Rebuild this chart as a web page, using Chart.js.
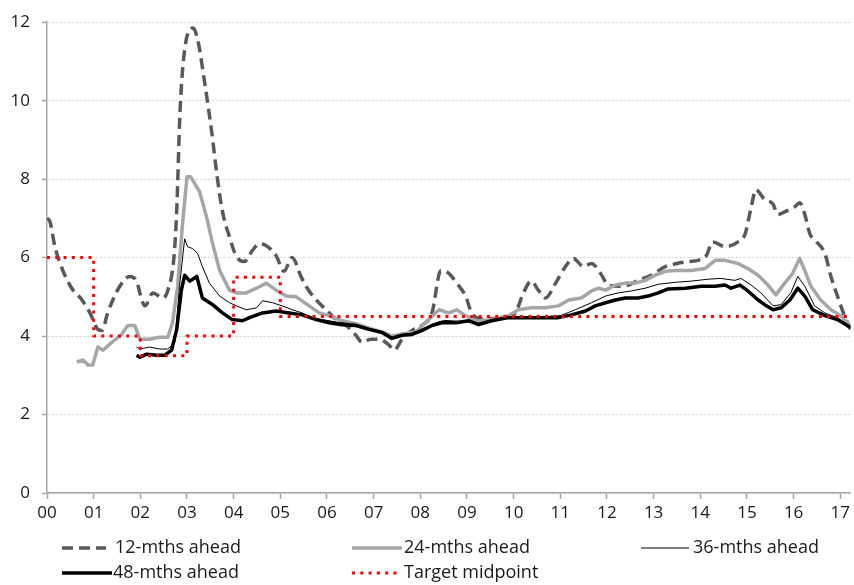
<!DOCTYPE html>
<html>
<head>
<meta charset="utf-8">
<script src="https://cdn.jsdelivr.net/npm/chart.js@4.4.0/dist/chart.umd.min.js"></script>
<style>
  html, body { margin: 0; padding: 0; background: #fff; }
  #wrap { position: relative; width: 854px; height: 585px; }
</style>
</head>
<body>
<div id="wrap"><canvas id="chart"></canvas></div>
<script>
const FONT = "'Open Sans', sans-serif";

// year fractions and values
const t12 = [2000.0, 2000.06, 2000.17, 2000.34, 2000.53, 2000.75, 2000.92, 2001.09, 2001.18, 2001.3, 2001.56, 2001.77, 2001.92, 2002.03, 2002.1, 2002.27, 2002.48, 2002.59, 2002.72, 2002.78, 2002.85, 2002.95, 2003.13, 2003.23, 2003.38, 2003.53, 2003.65, 2003.76, 2003.91, 2004.06, 2004.23, 2004.4, 2004.55, 2004.7, 2004.91, 2005.08, 2005.25, 2005.45, 2005.55, 2005.77, 2005.98, 2006.2, 2006.41, 2006.62, 2006.75, 2006.94, 2007.12, 2007.33, 2007.44, 2007.61, 2007.82, 2008.03, 2008.25, 2008.44, 2008.61, 2008.78, 2008.97, 2009.1, 2009.3, 2009.6, 2009.9, 2010.04, 2010.21, 2010.38, 2010.53, 2010.68, 2010.9, 2011.11, 2011.28, 2011.5, 2011.67, 2011.86, 2012.03, 2012.24, 2012.46, 2012.67, 2012.95, 2013.25, 2013.5, 2013.75, 2013.95, 2014.12, 2014.27, 2014.53, 2014.81, 2014.96, 2015.09, 2015.19, 2015.38, 2015.56, 2015.66, 2015.83, 2016.03, 2016.13, 2016.24, 2016.35, 2016.47, 2016.67, 2016.8, 2016.94, 2017.09, 2017.22];
const v12 = [7.0, 6.93, 6.28, 5.67, 5.22, 4.92, 4.59, 4.17, 4.14, 4.59, 5.27, 5.52, 5.4, 4.92, 4.77, 5.1, 4.97, 5.17, 6.0, 7.2, 9.7, 11.3, 11.85, 11.55, 10.45, 9.2, 8.03, 7.18, 6.53, 6.03, 5.9, 6.18, 6.35, 6.3, 6.05, 5.65, 6.0, 5.5, 5.27, 4.92, 4.67, 4.42, 4.27, 4.02, 3.84, 3.92, 3.92, 3.77, 3.64, 3.92, 4.14, 4.27, 4.59, 5.67, 5.6, 5.35, 5.02, 4.59, 4.45, 4.45, 4.5, 4.59, 5.1, 5.4, 5.17, 4.97, 5.35, 5.77, 5.98, 5.77, 5.85, 5.6, 5.3, 5.27, 5.3, 5.42, 5.55, 5.77, 5.85, 5.9, 5.93, 6.03, 6.4, 6.28, 6.4, 6.6, 7.28, 7.73, 7.48, 7.36, 7.1, 7.18, 7.3, 7.4, 7.1, 6.6, 6.43, 6.1, 5.52, 5.02, 4.52, 4.17];

const t24 = [2000.64, 2000.77, 2000.88, 2000.98, 2001.09, 2001.2, 2001.39, 2001.6, 2001.73, 2001.88, 2001.99, 2002.2, 2002.41, 2002.59, 2002.69, 2002.8, 2002.9, 2003.0, 2003.08, 2003.27, 2003.42, 2003.55, 2003.7, 2003.91, 2004.06, 2004.27, 2004.49, 2004.7, 2004.91, 2005.13, 2005.34, 2005.62, 2005.83, 2006.05, 2006.3, 2006.6, 2006.9, 2007.2, 2007.4, 2007.6, 2007.9, 2008.18, 2008.4, 2008.61, 2008.78, 2008.97, 2009.2, 2009.53, 2009.89, 2010.1, 2010.38, 2010.68, 2010.96, 2011.18, 2011.45, 2011.67, 2011.82, 2011.97, 2012.18, 2012.39, 2012.61, 2012.82, 2013.03, 2013.25, 2013.46, 2013.8, 2014.1, 2014.32, 2014.53, 2014.81, 2015.02, 2015.24, 2015.45, 2015.62, 2015.81, 2015.98, 2016.13, 2016.24, 2016.37, 2016.58, 2016.8, 2017.01, 2017.22];
const v24 = [3.34, 3.39, 3.26, 3.26, 3.72, 3.64, 3.84, 4.04, 4.27, 4.27, 3.92, 3.92, 3.97, 3.97, 4.34, 5.27, 6.8, 8.06, 8.06, 7.68, 7.03, 6.35, 5.67, 5.17, 5.1, 5.1, 5.22, 5.35, 5.17, 5.02, 5.0, 4.77, 4.59, 4.52, 4.4, 4.32, 4.2, 4.1, 4.0, 4.05, 4.1, 4.42, 4.67, 4.59, 4.67, 4.52, 4.38, 4.42, 4.52, 4.67, 4.72, 4.72, 4.77, 4.92, 4.97, 5.15, 5.22, 5.17, 5.3, 5.35, 5.35, 5.42, 5.55, 5.65, 5.67, 5.67, 5.72, 5.93, 5.93, 5.85, 5.72, 5.55, 5.3, 5.05, 5.35, 5.6, 5.98, 5.67, 5.27, 4.92, 4.67, 4.52, 4.27];

const t36 = [2001.92, 2001.99, 2002.2, 2002.41, 2002.59, 2002.74, 2002.84, 2002.95, 2003.01, 2003.12, 2003.23, 2003.33, 2003.48, 2003.7, 2003.91, 2004.06, 2004.27, 2004.49, 2004.62, 2004.83, 2005.04, 2005.26, 2005.47, 2005.68, 2005.9, 2006.2, 2006.6, 2006.9, 2007.2, 2007.4, 2007.6, 2007.85, 2008.05, 2008.3, 2008.5, 2008.8, 2009.25, 2009.55, 2009.9, 2010.3, 2010.7, 2011.0, 2011.32, 2011.67, 2011.97, 2012.24, 2012.52, 2012.82, 2013.1, 2013.46, 2013.8, 2014.17, 2014.44, 2014.74, 2014.87, 2015.09, 2015.3, 2015.56, 2015.73, 2015.94, 2016.09, 2016.24, 2016.45, 2016.67, 2016.94, 2017.22];
const v36 = [3.72, 3.67, 3.72, 3.67, 3.67, 3.84, 5.27, 6.48, 6.28, 6.23, 6.1, 5.77, 5.35, 5.02, 4.85, 4.77, 4.67, 4.72, 4.9, 4.85, 4.77, 4.67, 4.59, 4.47, 4.42, 4.36, 4.3, 4.2, 4.1, 3.97, 4.04, 4.08, 4.18, 4.32, 4.4, 4.38, 4.33, 4.42, 4.5, 4.5, 4.5, 4.52, 4.67, 4.85, 5.02, 5.1, 5.15, 5.22, 5.32, 5.37, 5.4, 5.45, 5.47, 5.42, 5.47, 5.3, 5.1, 4.77, 4.8, 5.1, 5.52, 5.27, 4.77, 4.59, 4.47, 4.22];

const t48 = [2001.92, 2001.99, 2002.14, 2002.35, 2002.52, 2002.67, 2002.78, 2002.88, 2002.95, 2003.06, 2003.21, 2003.33, 2003.55, 2003.76, 2003.97, 2004.19, 2004.34, 2004.62, 2004.91, 2005.19, 2005.47, 2005.77, 2006.05, 2006.32, 2006.62, 2006.9, 2007.18, 2007.39, 2007.61, 2007.82, 2008.03, 2008.25, 2008.46, 2008.76, 2009.04, 2009.25, 2009.53, 2009.89, 2010.26, 2010.6, 2010.96, 2011.24, 2011.54, 2011.75, 2011.97, 2012.18, 2012.39, 2012.67, 2012.88, 2013.1, 2013.31, 2013.68, 2014.02, 2014.32, 2014.53, 2014.66, 2014.85, 2015.02, 2015.24, 2015.38, 2015.56, 2015.73, 2015.92, 2016.09, 2016.24, 2016.41, 2016.67, 2016.94, 2017.22];
const v48 = [3.51, 3.46, 3.54, 3.51, 3.51, 3.64, 4.17, 5.17, 5.55, 5.4, 5.52, 4.97, 4.8, 4.59, 4.42, 4.39, 4.47, 4.59, 4.64, 4.59, 4.54, 4.42, 4.34, 4.29, 4.27, 4.17, 4.09, 3.94, 4.02, 4.04, 4.14, 4.27, 4.34, 4.34, 4.39, 4.29, 4.39, 4.47, 4.47, 4.47, 4.47, 4.54, 4.64, 4.77, 4.85, 4.92, 4.97, 4.97, 5.02, 5.1, 5.2, 5.22, 5.27, 5.27, 5.3, 5.22, 5.3, 5.15, 4.92, 4.8, 4.67, 4.72, 4.92, 5.22, 5.02, 4.67, 4.52, 4.42, 4.22];

const tTarget = [2000, 2001, 2002, 2003, 2004, 2005, 2017.22];
const vTarget = [6, 4, 3.5, 4, 5.5, 4.5, 4.5];

const seriesLabels = ["12-mths ahead", "24-mths ahead", "36-mths ahead", "48-mths ahead", "Target midpoint"];

const pts = (t, v) => t.map((x, i) => ({ x: x, y: v[i] }));

// legend drawn by hand so it matches the 3-column layout
const legendPlugin = {
  id: "manualLegend",
  afterDraw: (chart) => {
    const ctx = chart.ctx;
    const spots = [
      { x0: 62, x1: 106, tx: 115, y: 548 },
      { x0: 352, x1: 402, tx: 404, y: 548 },
      { x0: 641, x1: 689, tx: 693, y: 548 },
      { x0: 62, x1: 112, tx: 113, y: 573 },
      { x0: 352, x1: 399, tx: 404, y: 573 },
    ];
    chart.data.datasets.forEach((ds, i) => {
      const s = spots[i];
      ctx.save();
      ctx.beginPath();
      ctx.strokeStyle = ds.borderColor;
      ctx.lineWidth = ds.borderWidth;
      ctx.setLineDash(ds.borderDash || []);
      ctx.moveTo(s.x0, s.y);
      ctx.lineTo(s.x1, s.y);
      ctx.stroke();
      ctx.setLineDash([]);
      ctx.fillStyle = "#1a1a1a";
      ctx.font = "18px " + FONT;
      ctx.textBaseline = "middle";
      ctx.textAlign = "left";
      ctx.fillText(seriesLabels[i], s.tx, s.y);
      ctx.restore();
    });
  },
};

const datasets = [
  { label: seriesLabels[0], data: pts(t12, v12), borderColor: "#595959", borderWidth: 3.5, borderDash: [11, 6], cubicInterpolationMode: "monotone", order: 4 },
  { label: seriesLabels[1], data: pts(t24, v24), borderColor: "#a6a6a6", borderWidth: 3.5, order: 3 },
  { label: seriesLabels[2], data: pts(t36, v36), borderColor: "#000000", borderWidth: 1, order: 2 },
  { label: seriesLabels[3], data: pts(t48, v48), borderColor: "#000000", borderWidth: 3.5, order: 1 },
  { label: seriesLabels[4], data: pts(tTarget, vTarget), borderColor: "#ff0000", borderWidth: 3, borderDash: [3, 5.3], stepped: "before", order: 0 },
];

new Chart(document.getElementById("chart"), {
  type: "line",
  data: { datasets: datasets },
  options: {
    animation: false,
    responsive: true,
    maintainAspectRatio: false,
    layout: { padding: { top: 15, right: 1, left: 0, bottom: 62 } },
    elements: {
      point: { radius: 0, hoverRadius: 0 },
      line: { tension: 0, borderCapStyle: "butt", borderJoinStyle: "round", fill: false },
    },
    plugins: { legend: { display: false }, tooltip: { enabled: false } },
    scales: {
      x: {
        type: "linear",
        min: 2000,
        max: 2017.22,
        afterFit: (scale) => { scale.height = 30; },
        border: { display: true, color: "#a6a6a6", width: 1.5 },
        grid: { drawOnChartArea: false, drawTicks: true, tickLength: 6, tickColor: "#a6a6a6", tickWidth: 1.5 },
        ticks: {
          stepSize: 1,
          includeBounds: false,
          maxRotation: 0,
          autoSkip: false,
          padding: 4,
          color: "#1a1a1a",
          font: { family: FONT, size: 17 },
          callback: (val) => String(Math.round(val) % 100).padStart(2, "0"),
        },
      },
      y: {
        min: 0,
        max: 12,
        afterFit: (scale) => { scale.width = 47; },
        border: { display: true, color: "#a6a6a6", width: 1.5, dash: [2, 2] },
        grid: { color: "#cfcfcf", lineWidth: 1, drawTicks: true, tickLength: 5, tickColor: "#a6a6a6", tickBorderDash: [], tickWidth: 1.5 },
        ticks: {
          stepSize: 2,
          padding: 12,
          color: "#1a1a1a",
          font: { family: FONT, size: 17 },
        },
      },
    },
  },
  plugins: [legendPlugin],
});
</script>
</body>
</html>
